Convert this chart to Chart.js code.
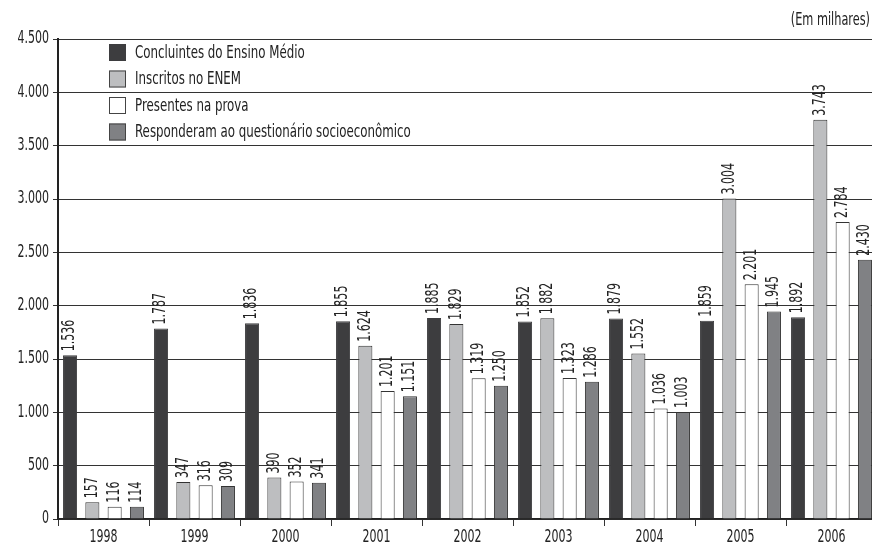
<!DOCTYPE html>
<html>
<head>
<meta charset="utf-8">
<script src="https://cdn.jsdelivr.net/npm/chart.js@4.4.1/dist/chart.umd.min.js"></script>
<style>
  html, body { margin: 0; padding: 0; background: #fff; overflow: hidden; }
  #wrap { position: relative; width: 880px; height: 546px; }
</style>
</head>
<body>
<div id="wrap">
  <canvas id="chart" width="880" height="546"></canvas>
</div>
<script>
const anos = ['1998', '1999', '2000', '2001', '2002', '2003', '2004', '2005', '2006'];
const concluintes = [1536, 1787, 1836, 1855, 1885, 1852, 1879, 1859, 1892];
const inscritos = [157, 347, 390, 1624, 1829, 1882, 1552, 3004, 3743];
const presentes = [116, 316, 352, 1201, 1319, 1323, 1036, 2201, 2784];
const responderam = [114, 309, 341, 1151, 1250, 1286, 1003, 1945, 2430];
const series = ['Concluintes do Ensino Médio', 'Inscritos no ENEM', 'Presentes na prova', 'Responderam ao questionário socioeconômico'];
const yTicks = [0, 500, 1000, 1500, 2000, 2500, 3000, 3500, 4000, 4500];
const unidade = '(Em milhares)';

const FONT = "'DejaVu Sans Condensed', 'Liberation Sans Narrow', sans-serif";
const cores = ['#3d3d3f', '#bdbec0', '#ffffff', '#808184'];
const bordas = ['#3d3d3f', '#333333', '#333333', '#333333'];

const fmt = function (v) {
  return String(v).replace(/\B(?=(\d{3})+(?!\d))/g, '.');
};

// texto comprimido na direcao do texto (a fonte original e bem condensada)
const texto = function (ctx, t, x, y, sx, rot) {
  ctx.save();
  ctx.translate(x, y);
  if (rot) ctx.rotate(rot);
  ctx.scale(sx, 1);
  ctx.fillText(t, 0, 0);
  ctx.restore();
};

const valores = [concluintes, inscritos, presentes, responderam];
const datasets = [];
for (let i = 0; i < series.length; i++) {
  datasets.push({
    label: series[i],
    data: valores[i],
    backgroundColor: cores[i],
    borderColor: bordas[i],
    borderWidth: 1,
    categoryPercentage: 0.98,
    barPercentage: 0.63
  });
}

// rotulos verticais em cima das barras
const rotulos = {
  id: 'rotulos',
  afterDatasetsDraw(chart) {
    const ctx = chart.ctx;
    ctx.save();
    ctx.font = '17px ' + FONT;
    ctx.fillStyle = '#222';
    ctx.textAlign = 'left';
    ctx.textBaseline = 'middle';
    chart.data.datasets.forEach(function (ds, i) {
      const meta = chart.getDatasetMeta(i);
      meta.data.forEach(function (bar, j) {
        texto(ctx, fmt(ds.data[j]), bar.x, bar.y - 4, 0.72, -Math.PI / 2);
      });
    });
    ctx.restore();
  }
};

// labels dos eixos desenhados a mao pra poder comprimir
const eixos = {
  id: 'eixos',
  afterDraw(chart) {
    const ctx = chart.ctx;
    const x = chart.scales.x;
    const y = chart.scales.y;
    ctx.save();
    ctx.font = '17px ' + FONT;
    ctx.fillStyle = '#222';
    ctx.textBaseline = 'middle';
    ctx.textAlign = 'right';
    yTicks.forEach(function (v) {
      texto(ctx, fmt(v), 49, y.getPixelForValue(v), 0.72);
    });
    ctx.textAlign = 'center';
    anos.forEach(function (a, i) {
      texto(ctx, a, x.getPixelForValue(i), 538, 0.72);
    });
    ctx.textAlign = 'right';
    texto(ctx, unidade, 870, 21, 0.74);
    ctx.restore();
  }
};

// legenda dentro da area do grafico
const legenda = {
  id: 'legenda',
  afterDraw(chart) {
    const ctx = chart.ctx;
    ctx.save();
    ctx.font = '18px ' + FONT;
    ctx.textAlign = 'left';
    ctx.textBaseline = 'middle';
    chart.data.datasets.forEach(function (ds, i) {
      const y = 44 + i * 26.5;
      ctx.fillStyle = ds.backgroundColor;
      ctx.fillRect(109, y, 17, 17);
      if (i > 0) {
        ctx.strokeStyle = '#444';
        ctx.lineWidth = 1;
        ctx.strokeRect(109.5, y + 0.5, 16, 16);
      }
      ctx.fillStyle = '#222';
      texto(ctx, ds.label, 135, y + 9, 0.73);
    });
    ctx.restore();
  }
};

new Chart(document.getElementById('chart'), {
  type: 'bar',
  data: { labels: anos, datasets: datasets },
  options: {
    responsive: false,
    animation: false,
    layout: { padding: { top: 39, right: 3, left: 0, bottom: 0 } },
    plugins: {
      legend: { display: false },
      tooltip: { enabled: false }
    },
    scales: {
      x: {
        grid: { offset: true, drawOnChartArea: false, color: '#333', tickLength: 7 },
        border: { display: true, color: '#222', width: 1.5 },
        ticks: { display: false },
        afterFit(scale) { scale.height = 27; }
      },
      y: {
        min: 0,
        max: 4500,
        afterBuildTicks(scale) { scale.ticks = yTicks.map(v => ({ value: v })); },
        grid: { color: '#333', lineWidth: 1, tickLength: 5 },
        border: { display: true, color: '#222', width: 2 },
        ticks: { display: false },
        afterFit(scale) { scale.width = 58; }
      }
    }
  },
  plugins: [rotulos, eixos, legenda]
});
</script>
</body>
</html>
